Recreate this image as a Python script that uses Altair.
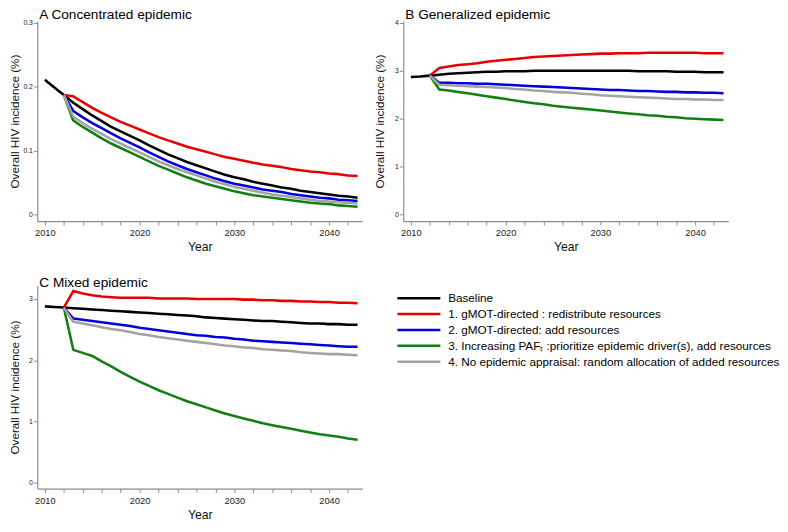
import altair as alt
import pandas as pd

# ---------------- data ----------------
scenarios = [
    "Baseline",
    "1. gMOT-directed : redistribute resources",
    "2. gMOT-directed: add resources",
    "3. Increasing PAF\u209c :prioritize epidemic driver(s), add resources",
    "4. No epidemic appraisal: random allocation of added resources",
]
colors = ["#000000", "#e60000", "#0000e0", "#127f12", "#a3a3a3"]

years_base = list(range(2010, 2044))   # baseline years
years_scen = list(range(2012, 2044))   # scenario years

# Panel A: concentrated epidemic
a_base = [0.211, 0.199, 0.187, 0.175, 0.165, 0.155, 0.146, 0.137, 0.130, 0.123, 0.116,
          0.108, 0.101, 0.094, 0.088, 0.082, 0.077, 0.072, 0.067, 0.062, 0.058,
          0.055, 0.051, 0.048, 0.045, 0.042, 0.040, 0.037, 0.035, 0.033, 0.031,
          0.029, 0.028, 0.026]
a_s1 = [0.187, 0.185, 0.176, 0.167, 0.159, 0.152, 0.145, 0.139, 0.133,
        0.127, 0.121, 0.116, 0.111, 0.106, 0.102, 0.098, 0.094, 0.090, 0.087,
        0.084, 0.081, 0.078, 0.076, 0.074, 0.071, 0.069, 0.067, 0.066, 0.064,
        0.063, 0.061, 0.060]
a_s2 = [0.187, 0.162, 0.152, 0.143, 0.135, 0.127, 0.119, 0.112, 0.105,
        0.097, 0.090, 0.083, 0.077, 0.071, 0.066, 0.061, 0.056, 0.052, 0.048,
        0.045, 0.042, 0.039, 0.037, 0.035, 0.032, 0.030, 0.028, 0.026, 0.025,
        0.023, 0.022, 0.021]
a_s3 = [0.187, 0.147, 0.137, 0.128, 0.119, 0.111, 0.104, 0.097, 0.090,
        0.083, 0.076, 0.070, 0.064, 0.058, 0.053, 0.048, 0.044, 0.040, 0.036,
        0.033, 0.030, 0.028, 0.026, 0.024, 0.022, 0.020, 0.018, 0.017, 0.016,
        0.014, 0.013, 0.012]
a_s4 = [0.187, 0.153, 0.143, 0.134, 0.126, 0.118, 0.111, 0.104, 0.097,
        0.090, 0.083, 0.077, 0.071, 0.066, 0.061, 0.056, 0.051, 0.047, 0.043,
        0.040, 0.037, 0.034, 0.031, 0.029, 0.027, 0.025, 0.023, 0.021, 0.020,
        0.019, 0.018, 0.017]

# Panel B: generalized epidemic
b_base = [2.87, 2.88, 2.90, 2.92, 2.94, 2.95, 2.96, 2.97, 2.98, 2.98, 2.99,
          2.99, 2.99, 3.00, 3.00, 3.00, 3.00, 3.00, 3.00, 3.00, 3.00,
          3.00, 3.00, 3.00, 2.99, 2.99, 2.99, 2.99, 2.98, 2.98, 2.98,
          2.97, 2.97, 2.97]
b_s1 = [2.90, 3.06, 3.09, 3.12, 3.14, 3.16, 3.19, 3.21, 3.23,
        3.25, 3.27, 3.29, 3.30, 3.31, 3.32, 3.33, 3.34, 3.35, 3.36,
        3.36, 3.37, 3.37, 3.37, 3.38, 3.38, 3.38, 3.38, 3.38, 3.38,
        3.37, 3.37, 3.37]
b_s2 = [2.90, 2.75, 2.75, 2.74, 2.74, 2.73, 2.73, 2.72, 2.71,
        2.70, 2.69, 2.68, 2.67, 2.66, 2.65, 2.64, 2.63, 2.62, 2.61,
        2.60, 2.60, 2.59, 2.58, 2.58, 2.57, 2.56, 2.56, 2.55, 2.55,
        2.54, 2.54, 2.53]
b_s3 = [2.90, 2.61, 2.59, 2.56, 2.53, 2.50, 2.47, 2.44, 2.41,
        2.38, 2.35, 2.32, 2.30, 2.27, 2.25, 2.23, 2.21, 2.19, 2.17,
        2.15, 2.13, 2.11, 2.09, 2.07, 2.06, 2.04, 2.03, 2.01, 2.00,
        1.99, 1.98, 1.97]
b_s4 = [2.90, 2.71, 2.70, 2.69, 2.68, 2.67, 2.66, 2.65, 2.64,
        2.62, 2.61, 2.59, 2.58, 2.56, 2.55, 2.54, 2.52, 2.51, 2.49,
        2.48, 2.47, 2.46, 2.45, 2.44, 2.43, 2.42, 2.41, 2.41, 2.40,
        2.40, 2.39, 2.39]

# Panel C: mixed epidemic
c_base = [2.88, 2.87, 2.86, 2.85, 2.84, 2.83, 2.82, 2.81, 2.80, 2.79, 2.78,
          2.77, 2.76, 2.75, 2.74, 2.73, 2.72, 2.70, 2.69, 2.68, 2.67,
          2.66, 2.65, 2.64, 2.64, 2.63, 2.62, 2.61, 2.60, 2.60, 2.59,
          2.59, 2.58, 2.58]
c_s1 = [2.86, 3.13, 3.09, 3.06, 3.04, 3.03, 3.02, 3.02, 3.02,
        3.02, 3.01, 3.01, 3.01, 3.01, 3.00, 3.00, 3.00, 3.00, 3.00,
        2.99, 2.99, 2.98, 2.98, 2.97, 2.97, 2.96, 2.96, 2.95, 2.95,
        2.94, 2.94, 2.93]
c_s2 = [2.86, 2.68, 2.66, 2.64, 2.62, 2.60, 2.58, 2.56, 2.53,
        2.51, 2.49, 2.47, 2.45, 2.43, 2.41, 2.40, 2.38, 2.37, 2.35,
        2.34, 2.32, 2.31, 2.30, 2.29, 2.28, 2.27, 2.26, 2.25, 2.24,
        2.23, 2.22, 2.22]
c_s3 = [2.86, 2.17, 2.12, 2.07, 1.98, 1.90, 1.81, 1.73, 1.65,
        1.58, 1.51, 1.45, 1.39, 1.33, 1.28, 1.23, 1.18, 1.13, 1.09,
        1.05, 1.01, 0.97, 0.94, 0.91, 0.88, 0.85, 0.82, 0.79, 0.77,
        0.75, 0.72, 0.70]
c_s4 = [2.86, 2.63, 2.60, 2.57, 2.54, 2.51, 2.49, 2.46, 2.43,
        2.41, 2.38, 2.36, 2.34, 2.32, 2.30, 2.28, 2.26, 2.24, 2.23,
        2.21, 2.20, 2.18, 2.17, 2.16, 2.15, 2.13, 2.12, 2.11, 2.10,
        2.10, 2.09, 2.08]

x_ticks = list(range(2010, 2044, 2))
a_ticks = [0, 0.1, 0.2, 0.3]
b_ticks = [0, 1, 2, 3, 4]
c_ticks = [0, 1, 2, 3]

FONT = "Liberation Sans"
AXIS_COLOR = "#8c8c8c"


def frame(base, s1, s2, s3, s4):
    rows = []
    for y, v in zip(years_base, base):
        rows.append({"year": y, "value": v, "scenario": scenarios[0]})
    for name, series in zip(scenarios[1:], [s1, s2, s3, s4]):
        for y, v in zip(years_scen, series):
            rows.append({"year": y, "value": v, "scenario": name})
    return pd.DataFrame(rows)


def panel(df, title, ydomain, yticks, ylabel_expr, title_pad, h, toff):
    return alt.Chart(df).mark_line(strokeWidth=2.6, strokeJoin="round").encode(
        x=alt.X("year:Q",
                scale=alt.Scale(domain=[2009.2, 2043.5], nice=False, zero=False),
                axis=alt.Axis(values=x_ticks,
                              labelExpr="datum.value % 10 == 0 ? format(datum.value, 'd') : ''",
                              title="Year", labelFontSize=9.5, titleFontSize=12.5,
                              titleFontWeight="normal", titleFont=FONT, labelFont=FONT,
                              labelColor="#222222", titleColor="#111111",
                              domainColor=AXIS_COLOR, tickColor=AXIS_COLOR,
                              domainWidth=1.2, tickWidth=1, grid=False,
                              tickSize=4, labelPadding=3, titlePadding=4,
                              labelFlush=False, labelOverlap=False)),
        y=alt.Y("value:Q",
                scale=alt.Scale(domain=ydomain, nice=False, zero=False),
                axis=alt.Axis(values=yticks, labelExpr=ylabel_expr,
                              title="Overall HIV incidence (%)", labelFontSize=7,
                              titleFontSize=12, titleFontWeight="normal",
                              titleFont=FONT, labelFont=FONT,
                              labelColor="#222222", titleColor="#111111",
                              domainColor=AXIS_COLOR, tickColor=AXIS_COLOR,
                              domainWidth=1.2, tickWidth=1, grid=False,
                              tickSize=4, labelPadding=1,
                              titlePadding=title_pad, labelOverlap=False)),
        color=alt.Color("scenario:N",
                        scale=alt.Scale(domain=scenarios, range=colors),
                        legend=None),
    ).properties(
        width=333, height=h,
        title=alt.TitleParams(title, anchor="start", frame="group", fontSize=14,
                              fontWeight="normal", offset=toff, dx=2, font=FONT,
                              color="#000000"),
    )


dfA = frame(a_base, a_s1, a_s2, a_s3, a_s4)
dfB = frame(b_base, b_s1, b_s2, b_s3, b_s4)
dfC = frame(c_base, c_s1, c_s2, c_s3, c_s4)

one_dec = "datum.value == 0 ? '0' : format(datum.value, '.1f')"
integer = "format(datum.value, 'd')"


def build(top_off, c_off, vspace, pad):
    pA = panel(dfA, "A Concentrated epidemic", [-0.0107, 0.303], a_ticks, one_dec, 2, 205, top_off)
    pB = panel(dfB, "B Generalized epidemic", [-0.143, 4.041], b_ticks, integer, 8, 205, top_off)
    pC = panel(dfC, "C Mixed epidemic", [-0.096, 3.22], c_ticks, integer, 7, 208, c_off)

    # legend drawn as its own small chart
    leg_df = pd.DataFrame({"scenario": scenarios, "idx": list(range(len(scenarios)))})
    leg_y = alt.Y("idx:Q", scale=alt.Scale(domain=[-0.8, 5.354], nice=False, zero=False,
                                           reverse=True), axis=None)
    leg_rules = alt.Chart(leg_df).mark_rule(strokeWidth=2.6).encode(
        y=leg_y, x=alt.value(0), x2=alt.value(44),
        color=alt.Color("scenario:N", scale=alt.Scale(domain=scenarios, range=colors),
                        legend=None),
    )
    leg_text = alt.Chart(leg_df).mark_text(align="left", baseline="middle", fontSize=12,
                                            font=FONT, color="#000000").encode(
        y=leg_y, x=alt.value(52), text="scenario:N",
    )
    legend = alt.layer(leg_rules, leg_text).properties(width=360, height=100)

    top = alt.hconcat(pA, pB, spacing=12)
    bottom = alt.hconcat(pC, legend, spacing=34)
    return alt.vconcat(top, bottom, spacing=vspace).properties(
        padding=pad
    ).configure(font=FONT).configure_view(stroke="transparent", strokeWidth=0)


try:
    chart = build(-3, -4, 23, {"top": -7, "left": 0, "right": 0, "bottom": 0})
    chart.save("out.html", embed_options={"renderer": "svg", "actions": False})
except Exception:
    chart = build(-11, -4, 23, {"top": 0, "left": 0, "right": 0, "bottom": 0})
    chart.save("out.html", embed_options={"renderer": "svg", "actions": False})
